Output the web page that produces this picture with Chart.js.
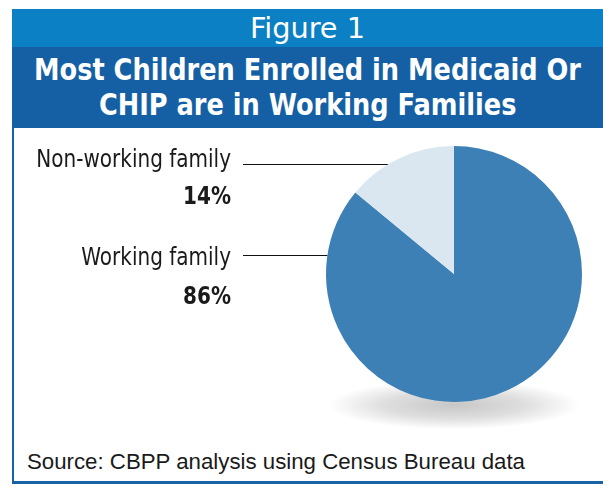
<!DOCTYPE html>
<html><head><meta charset="utf-8">
<script src="https://cdn.jsdelivr.net/npm/chart.js@4"></script>
<style>
html,body{margin:0;padding:0;background:#fff;}
body{width:603px;height:485px;position:relative;overflow:hidden;}
#frame{position:absolute;left:12px;top:9px;width:591px;height:475px;border-left:2px solid #1a62a6;border-bottom:3px solid #1a62a6;box-sizing:border-box;}
#fig{position:absolute;left:12px;top:9px;width:591px;height:38px;background:#0b80c4;}
#title{position:absolute;left:12px;top:47px;width:591px;height:81px;background:#1560a4;}
.line{position:absolute;white-space:nowrap;color:#fff;transform-origin:0 50%;}
#figText{font:29px 'DejaVu Sans Condensed',sans-serif;top:9px;line-height:38px;}
#t1,#t2{font:bold 31px 'DejaVu Sans Condensed',sans-serif;line-height:35px;}
#t1{top:52px;}
#t2{top:87px;}
#src{position:absolute;left:27px;top:449px;font:22px 'Liberation Sans',sans-serif;color:#1a1a1a;white-space:nowrap;transform-origin:0 50%;}
canvas{position:absolute;left:0;top:0;}
</style></head>
<body>
<div id="frame"></div>
<div id="fig"></div>
<div id="title"></div>
<span class="line" id="figText">Figure 1</span>
<span class="line" id="t1">Most Children Enrolled in Medicaid Or</span>
<span class="line" id="t2">CHIP are in Working Families</span>
<span id="src">Source: CBPP analysis using Census Bureau data</span>
<canvas id="c" width="603" height="485"></canvas>
<script>
const categories = ['Working family', 'Non-working family'];
const shares = [86, 14];
const sliceColors = ['#3d80b5', '#dae6f0'];

// layout (positions only)
const labelRightX = 231;
const lineStartX = 243;
const nameY = [258, 160];
const pctY = [297, 197];
const lineY = [255.5, 164.5];
const labelSqueeze = 0.89;

// fit header texts horizontally (condensed look)
function fitCentered(el, scale, cx) {
  const w = el.getBoundingClientRect().width;
  el.style.transform = 'scaleX(' + scale + ')';
  el.style.left = (cx - w * scale / 2) + 'px';
}
const bandCx = 307.5;
const figEl = document.getElementById('figText');
fitCentered(figEl, 115 / figEl.getBoundingClientRect().width, bandCx);
const t1 = document.getElementById('t1'), t2 = document.getElementById('t2');
const titleScale = 547 / t1.getBoundingClientRect().width;
fitCentered(t1, titleScale, bandCx);
fitCentered(t2, titleScale, bandCx);
const src = document.getElementById('src');
src.style.transform = 'scaleX(' + (498 / src.getBoundingClientRect().width) + ')';

const sideLabels = {
  id: 'sideLabels',
  beforeDatasetsDraw(chart) {
    const arc = chart.getDatasetMeta(0).data[0];
    const ctx = chart.ctx;
    const r = arc.outerRadius;
    const rx = r * 0.98, ry = r * 0.19;
    ctx.save();
    ctx.translate(arc.x, arc.y + r + 3);
    ctx.scale(1, ry / rx);
    const g = ctx.createRadialGradient(0, 0, 0, 0, 0, rx);
    g.addColorStop(0, 'rgba(0,0,0,0.22)');
    g.addColorStop(0.55, 'rgba(0,0,0,0.13)');
    g.addColorStop(1, 'rgba(0,0,0,0)');
    ctx.fillStyle = g;
    ctx.beginPath();
    ctx.arc(0, 0, rx, 0, Math.PI * 2);
    ctx.fill();
    ctx.restore();
  },
  afterDatasetsDraw(chart) {
    const ctx = chart.ctx;
    const arc = chart.getDatasetMeta(0).data[0];
    const r = arc.outerRadius;
    categories.forEach((name, i) => {
      ctx.save();
      ctx.fillStyle = '#1a1a1a';
      ctx.textAlign = 'right';
      ctx.textBaseline = 'middle';
      ctx.translate(labelRightX, 0);
      ctx.scale(labelSqueeze, 1);
      ctx.font = "25px 'DejaVu Sans Condensed',sans-serif";
      ctx.fillText(name, 0, nameY[i]);
      ctx.font = "bold 25px 'DejaVu Sans Condensed',sans-serif";
      ctx.fillText(shares[i] + '%', 0, pctY[i]);
      ctx.restore();
      const dy = lineY[i] - arc.y;
      const ex = arc.x - Math.sqrt(Math.max(r * r - dy * dy, 0));
      ctx.save();
      ctx.strokeStyle = '#111';
      ctx.lineWidth = 1.2;
      ctx.beginPath();
      ctx.moveTo(lineStartX, lineY[i]);
      ctx.lineTo(ex, lineY[i]);
      ctx.stroke();
      ctx.restore();
    });
  }
};

new Chart(document.getElementById('c'), {
  type: 'pie',
  data: {
    labels: categories,
    datasets: [{ data: shares, backgroundColor: sliceColors, borderWidth: 0, hoverOffset: 0 }]
  },
  options: {
    responsive: false,
    animation: false,
    layout: { padding: { left: 326, right: 21, top: 146, bottom: 83 } },
    plugins: { legend: { display: false }, tooltip: { enabled: false }, title: { display: false } },
    events: []
  },
  plugins: [sideLabels]
});
</script>
</body></html>
